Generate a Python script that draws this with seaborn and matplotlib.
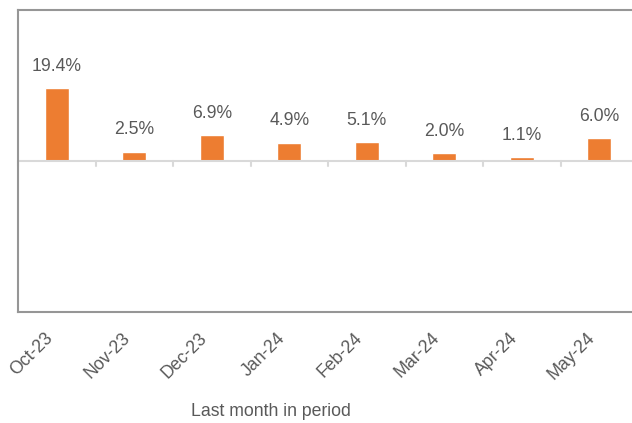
import matplotlib
matplotlib.use('Agg')
import matplotlib.pyplot as plt
import matplotlib.transforms as mtransforms
import seaborn as sns
import pandas as pd

# Data
months = ['Oct-23', 'Nov-23', 'Dec-23', 'Jan-24', 'Feb-24', 'Mar-24', 'Apr-24', 'May-24']
values = [19.4, 2.5, 6.9, 4.9, 5.1, 2.0, 1.1, 6.0]
x_label = 'Last month in period'

df = pd.DataFrame({'month': months, 'value': values})

sns.set_style('white')
plt.rcParams['font.family'] = ['Liberation Sans', 'DejaVu Sans']
text_col = '#595959'

fig = plt.figure(figsize=(6.32, 4.23), dpi=100)
ax = fig.add_axes([18 / 632, 111 / 423, 620 / 632, 302 / 423])

sns.barplot(data=df, x='month', y='value', color='#ED7D31', width=0.31,
            saturation=1, ax=ax)

ax.set_ylim(-40, 40)
ax.set_xlim(-0.5, len(months) - 0.5)

# zero line with category-boundary tick marks
ax.axhline(0, color='#d9d9d9', lw=1.5, zorder=1)
trans = mtransforms.blended_transform_factory(ax.transData, ax.transAxes)
for b in range(len(months) + 1):
    ax.plot([b - 0.5, b - 0.5], [0.5, 0.5 - 5 / 302], color='#d9d9d9', lw=1.5,
            transform=trans, clip_on=False, zorder=1)

# data labels
labels = [f'{v:.1f}%' for v in values]
ax.bar_label(ax.containers[0], labels=labels, padding=9.5, fontsize=12.7, color=text_col)

# frame
for s in ax.spines.values():
    s.set_color('#969696')
    s.set_linewidth(1.5)

ax.set_yticks([])
ax.set_xticks(range(len(months)))
ax.set_xticklabels(months, rotation=45, ha='right', va='center',
                   rotation_mode='anchor', fontsize=12.7, color=text_col)
ax.tick_params(axis='x', length=0, pad=14)
offset = mtransforms.ScaledTranslation(-7 / 100, -4 / 100, fig.dpi_scale_trans)
for lab in ax.get_xticklabels():
    lab.set_transform(lab.get_transform() + offset)
ax.set_xlabel('')
ax.set_ylabel('')

fig.text(271 / 632, 12 / 423, x_label, ha='center', va='center',
         fontsize=12.7, color=text_col)

fig.savefig('out.png', dpi=100)
